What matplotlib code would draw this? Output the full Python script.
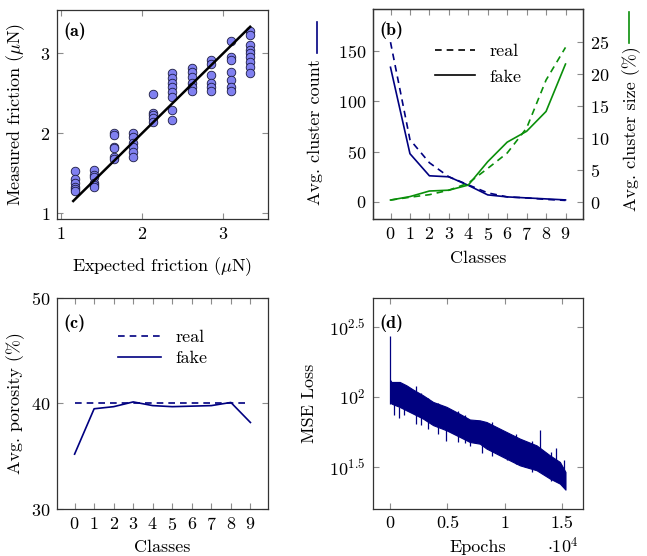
import numpy as np
import matplotlib
matplotlib.use("Agg")
import matplotlib.pyplot as plt
from matplotlib.lines import Line2D

plt.rcParams['font.family'] = ['cmr10', 'DejaVu Sans']
plt.rcParams['mathtext.fontset'] = 'cm'
plt.rcParams['axes.formatter.use_mathtext'] = True
plt.rcParams['font.size'] = 13

NAVY = '#000080'
GREEN = '#0a8f0a'
TICKC = '#8c8c8c'
SPINE = '#333333'

# ---------------- (a) friction ----------------
exp_friction = [1.17, 1.41, 1.65, 1.89, 2.13, 2.37, 2.61, 2.85, 3.09, 3.33]
meas_friction = [
    [1.53, 1.43, 1.38, 1.33, 1.30, 1.27],
    [1.54, 1.47, 1.45, 1.38, 1.35, 1.33],
    [2.00, 1.97, 1.83, 1.81, 1.70, 1.67],
    [2.00, 1.95, 1.88, 1.83, 1.76, 1.70],
    [2.49, 2.25, 2.22, 2.19, 2.14],
    [2.75, 2.69, 2.63, 2.58, 2.51, 2.45, 2.29, 2.16],
    [2.81, 2.76, 2.70, 2.63, 2.58, 2.53],
    [2.91, 2.86, 2.73, 2.63, 2.58, 2.53],
    [3.15, 2.95, 2.91, 2.76, 2.66, 2.58, 2.53],
    [3.28, 3.23, 3.10, 3.04, 3.00, 2.95, 2.89, 2.83, 2.75],
]
ideal_line = [1.15, 3.33]

# ---------------- (b) clusters ----------------
classes = list(range(10))
count_real = [159, 62, 39, 25, 17, 9, 5, 4, 2.5, 1.5]
count_fake = [134, 48, 26, 25, 16.5, 7, 5, 4, 3, 2]
size_real = [0.36, 0.8, 1.2, 1.9, 3.0, 5.3, 7.7, 11.6, 19.1, 24.2]
size_fake = [0.36, 0.9, 1.77, 1.9, 2.7, 6.35, 9.4, 11.1, 14.2, 21.6]

# ---------------- (c) porosity ----------------
poro_real = [40, 40, 40, 40, 40, 40, 40, 40, 40, 40]
poro_fake = [35.2, 39.5, 39.7, 40.15, 39.8, 39.7, 39.75, 39.8, 40.1, 38.2]

# ---------------- (d) loss (log10 envelope of the noisy curve) ----------------
epochs = [0, 105, 830, 1416, 1993, 2867, 3741, 4912, 6074, 6950,
          7822, 8408, 9860, 11318, 12778, 13940, 14814, 15300]
loss_hi = [2.12, 2.107, 2.107, 2.083, 2.053, 2.012, 1.965, 1.93, 1.88, 1.84,
           1.834, 1.822, 1.763, 1.704, 1.656, 1.585, 1.538, 1.467]
loss_lo = [1.97, 1.953, 1.929, 1.905, 1.882, 1.846, 1.80, 1.763, 1.716, 1.68,
           1.668, 1.633, 1.573, 1.514, 1.479, 1.42, 1.384, 1.341]
spike_ep = [0, 306, 743, 1200, 2229, 2700, 3300, 4200, 4912, 5926, 6500,
            6948, 7970, 8900, 10155, 11000, 11755, 12400, 13066, 14000,
            14465, 15190]
spike_lo = [1.95, 1.87, 1.85, 1.87, 1.81, 1.80, 1.77, 1.74, 1.69, 1.68, 1.67,
            1.65, 1.60, 1.58, 1.55, 1.52, 1.50, 1.47, 1.62, 1.40, 1.45, 1.36]
spike_hi = [2.433, 1.95, 1.93, 1.95, 2.08, 2.03, 1.99, 1.96, 1.85, 1.90, 1.87,
            1.78, 1.73, 1.82, 1.70, 1.74, 1.65, 1.69, 1.768, 1.61, 1.635,
            1.55]

W, H = 647, 556
fig = plt.figure(figsize=(W / 100, H / 100), dpi=100)


def box(l, t, r, b):
    return [l / W, 1 - b / H, (r - l) / W, (b - t) / H]


def style(ax, right=True, top=True):
    ax.tick_params(direction='in', length=4, width=0.8, color=TICKC,
                   top=top, right=right, labelsize=13, pad=5)
    for s in ax.spines.values():
        s.set_color(SPINE)
        s.set_linewidth(0.9)


def tag(ax, s, y):
    ax.text(0.03, y, s, transform=ax.transAxes, ha='left', va='center',
            fontsize=13, family='cmb10')


# (a)
axa = fig.add_axes(box(57, 10, 268, 219))
for xv, ys in zip(exp_friction, meas_friction):
    axa.scatter([xv] * len(ys), ys, s=38, facecolor='#8080f0',
                edgecolor='#1a1a40', linewidth=0.6, zorder=2)
axa.plot(ideal_line, ideal_line, color='black', lw=1.8, zorder=3)
axa.set_xlim(0.95, 3.55)
axa.set_ylim(0.925, 3.54)
axa.set_xticks([1, 2, 3])
axa.set_yticks([1, 2, 3])
style(axa)
axa.set_xlabel(r'Expected friction ($\mu$N)')
axa.set_ylabel(r'Measured friction ($\mu$N)')
axa.xaxis.set_label_coords(0.5, -0.172)
axa.yaxis.set_label_coords(-0.142, 0.5)
tag(axa, '(a)', 0.90)

# (b)
axb = fig.add_axes(box(373, 9, 583, 219))
axb2 = axb.twinx()
axb.plot(classes, count_real, color=NAVY, lw=1.2, ls=(0, (4, 3)))
axb.plot(classes, count_fake, color=NAVY, lw=1.2)
axb2.plot(classes, size_real, color=GREEN, lw=1.2, ls=(0, (4, 3)))
axb2.plot(classes, size_fake, color=GREEN, lw=1.2)
axb.set_xlim(-0.9, 9.9)
axb.set_ylim(-17, 192)
axb2.set_ylim(-2.6, 30.2)
axb.set_xticks(classes)
axb.set_yticks([0, 50, 100, 150])
axb2.set_yticks([0, 5, 10, 15, 20, 25])
style(axb, right=False)
style(axb2, right=True, top=False)
axb2.tick_params(left=False)
axb.set_xlabel('Classes')
axb.xaxis.set_label_coords(0.5, -0.152)
axb.set_ylabel('Avg. cluster count')
axb.yaxis.set_label_coords(-0.238, 0.416)
axb2.set_ylabel('Avg. cluster size (%)', rotation=90)
axb2.yaxis.set_label_coords(1.186, 0.431)
hb = [Line2D([], [], color='black', lw=1.2, ls=(0, (4, 3))),
      Line2D([], [], color='black', lw=1.2)]
axb2.legend(hb, ['real', 'fake'], loc='upper center', frameon=False,
            bbox_to_anchor=(0.5, 0.87), handlelength=2.2, labelspacing=0.55,
            fontsize=13, borderaxespad=0)
tag(axb, '(b)', 0.90)
fig.add_artist(Line2D([316.7 / W, 316.7 / W], [1 - 22 / H, 1 - 53 / H],
                      color=NAVY, lw=1.2))
fig.add_artist(Line2D([629 / W, 629 / W], [1 - 12 / H, 1 - 43 / H],
                      color=GREEN, lw=1.2))

# (c)
axc = fig.add_axes(box(57, 298, 268, 509))
axc.plot(classes, poro_real, color=NAVY, lw=1.2, ls=(0, (4, 3)), label='real')
axc.plot(classes, poro_fake, color=NAVY, lw=1.2, label='fake')
axc.set_xlim(-0.9, 9.9)
axc.set_ylim(30, 50)
axc.set_xticks(classes)
axc.set_yticks([30, 40, 50])
style(axc)
axc.set_xlabel('Classes')
axc.xaxis.set_label_coords(0.5, -0.147)
axc.set_ylabel('Avg. porosity (%)')
axc.yaxis.set_label_coords(-0.152, 0.5)
axc.legend(loc='upper center', frameon=False, bbox_to_anchor=(0.5, 0.885),
           handlelength=2.4, labelspacing=0.3, fontsize=13, borderaxespad=0)
tag(axc, '(c)', 0.879)

# (d)
axd = fig.add_axes(box(372.7, 298, 583, 509))
ep = np.array(epochs)
axd.fill_between(ep, 10 ** np.array(loss_lo), 10 ** np.array(loss_hi),
                 color=NAVY, edgecolor=NAVY, lw=0.8)
axd.vlines(spike_ep, 10 ** np.array(spike_lo), 10 ** np.array(spike_hi),
           color=NAVY, lw=0.9)
axd.set_yscale('log')
axd.set_xlim(-1530, 16830)
axd.set_ylim(10 ** 1.2035, 10 ** 2.704)
axd.set_xticks([0, 5000, 10000, 15000])
axd.set_xticklabels(['0', '0.5', '1', '1.5'])
axd.set_yticks([10 ** 1.5, 10 ** 2, 10 ** 2.5])
axd.set_yticklabels([r'$10^{1.5}$', r'$10^{2}$', r'$10^{2.5}$'])
axd.minorticks_off()
style(axd)
axd.set_xlabel('Epochs')
axd.xaxis.set_label_coords(0.498, -0.147)
axd.set_ylabel('MSE Loss')
axd.yaxis.set_label_coords(-0.265, 0.5)
axd.text(0.905, -0.175, r'$\cdot 10^4$', transform=axd.transAxes,
         ha='center', va='center', fontsize=13)
tag(axd, '(d)', 0.879)

fig.savefig('out.png', dpi=100)
